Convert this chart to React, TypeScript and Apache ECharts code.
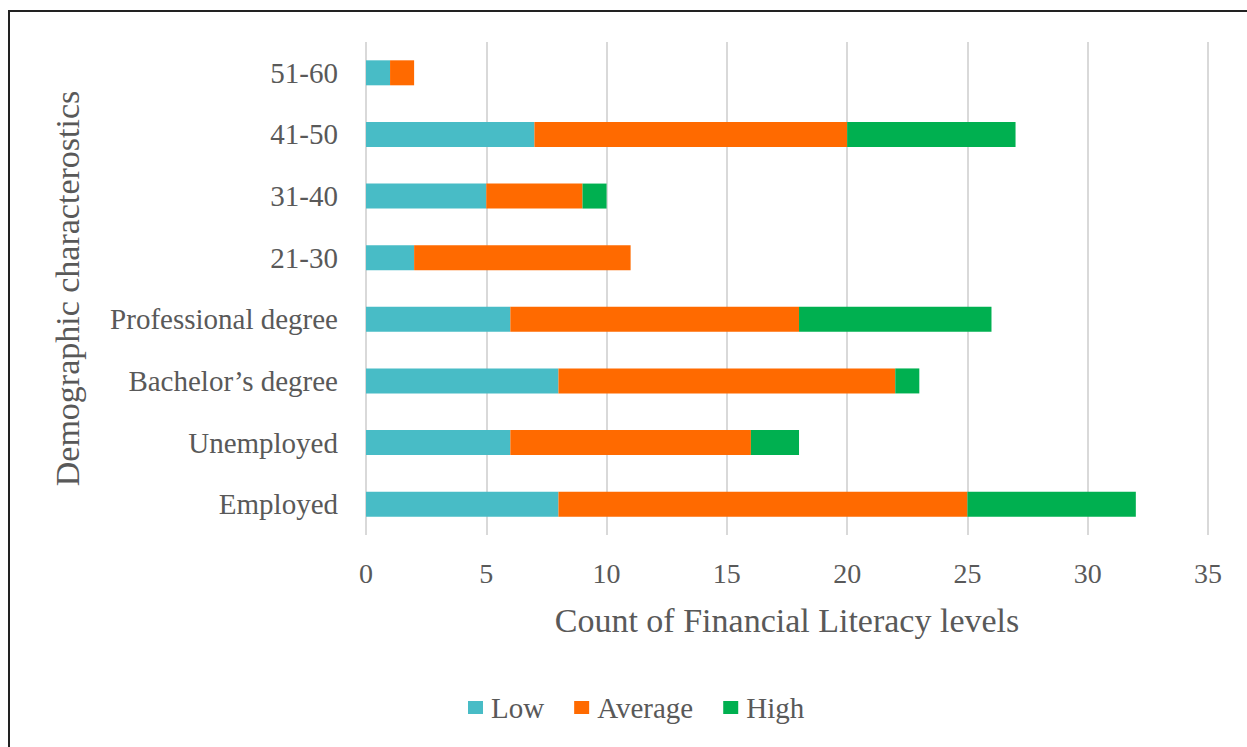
import React, { useEffect, useRef } from "react";
import * as echarts from "echarts";

const categories = [
  "Employed",
  "Unemployed",
  "Bachelor’s degree",
  "Professional degree",
  "21-30",
  "31-40",
  "41-50",
  "51-60",
];
const lowValues = [8, 6, 8, 6, 2, 5, 7, 1];
const averageValues = [17, 10, 14, 12, 9, 4, 13, 1];
const highValues = [7, 2, 1, 8, 0, 1, 7, 0];
const seriesNames = ["Low", "Average", "High"];
const colors = ["#48BCC6", "#FF6A00", "#00B050"];

const FONT = "'Liberation Serif', 'Times New Roman', serif";
const TEXT = "#595959";

export default function App() {
  const ref = useRef<HTMLDivElement>(null);
  useEffect(() => {
    if (!ref.current) return;
    const chart = echarts.init(ref.current, undefined, { renderer: "svg" });
    const data = [lowValues, averageValues, highValues];
    chart.setOption({
      animation: false,
      backgroundColor: "#ffffff",
      textStyle: { fontFamily: FONT },
      grid: { left: 366, right: 39, top: 42, bottom: 212, containLabel: false },
      legend: {
        data: seriesNames,
        left: 463,
        top: 688,
        itemWidth: 15,
        itemHeight: 13,
        itemGap: 30,
        icon: "rect",
        textStyle: { fontFamily: FONT, fontSize: 29, color: TEXT, padding: [0, 0, 0, 3] },
      },
      xAxis: {
        type: "value",
        min: 0,
        max: 35,
        interval: 5,
        name: "Count of Financial Literacy levels",
        nameLocation: "middle",
        nameGap: 85,
        nameTextStyle: { fontFamily: FONT, fontSize: 34, color: TEXT, verticalAlign: "middle" },
        axisLine: { show: false },
        axisTick: { show: false },
        axisLabel: { fontFamily: FONT, fontSize: 28, color: TEXT, margin: 24 },
        splitLine: { show: true, lineStyle: { color: "#d9d9d9", width: 2 } },
      },
      yAxis: {
        type: "category",
        data: categories,
        name: "Demographic characterostics",
        nameLocation: "middle",
        nameGap: 282,
        nameRotate: 90,
        nameTextStyle: { fontFamily: FONT, fontSize: 34, color: TEXT },
        axisLine: { show: false },
        axisTick: { show: false },
        axisLabel: { fontFamily: FONT, fontSize: 29, color: TEXT, margin: 28 },
        splitLine: { show: false },
      },
      series: seriesNames.map((name, i) => ({
        name,
        type: "bar",
        stack: "total",
        barWidth: 25,
        itemStyle: { color: colors[i] },
        data: data[i],
      })),
      graphic: [
        {
          type: "rect",
          shape: { x: 9, y: 11, width: 1400, height: 900 },
          style: { fill: "none", stroke: "#222", lineWidth: 2 },
          silent: true,
        },
      ],
    });
    return () => chart.dispose();
  }, []);
  return (
    <div
      ref={ref}
      style={{ position: "fixed", left: 0, top: 0, width: 1247, height: 747, background: "#fff" }}
    />
  );
}
